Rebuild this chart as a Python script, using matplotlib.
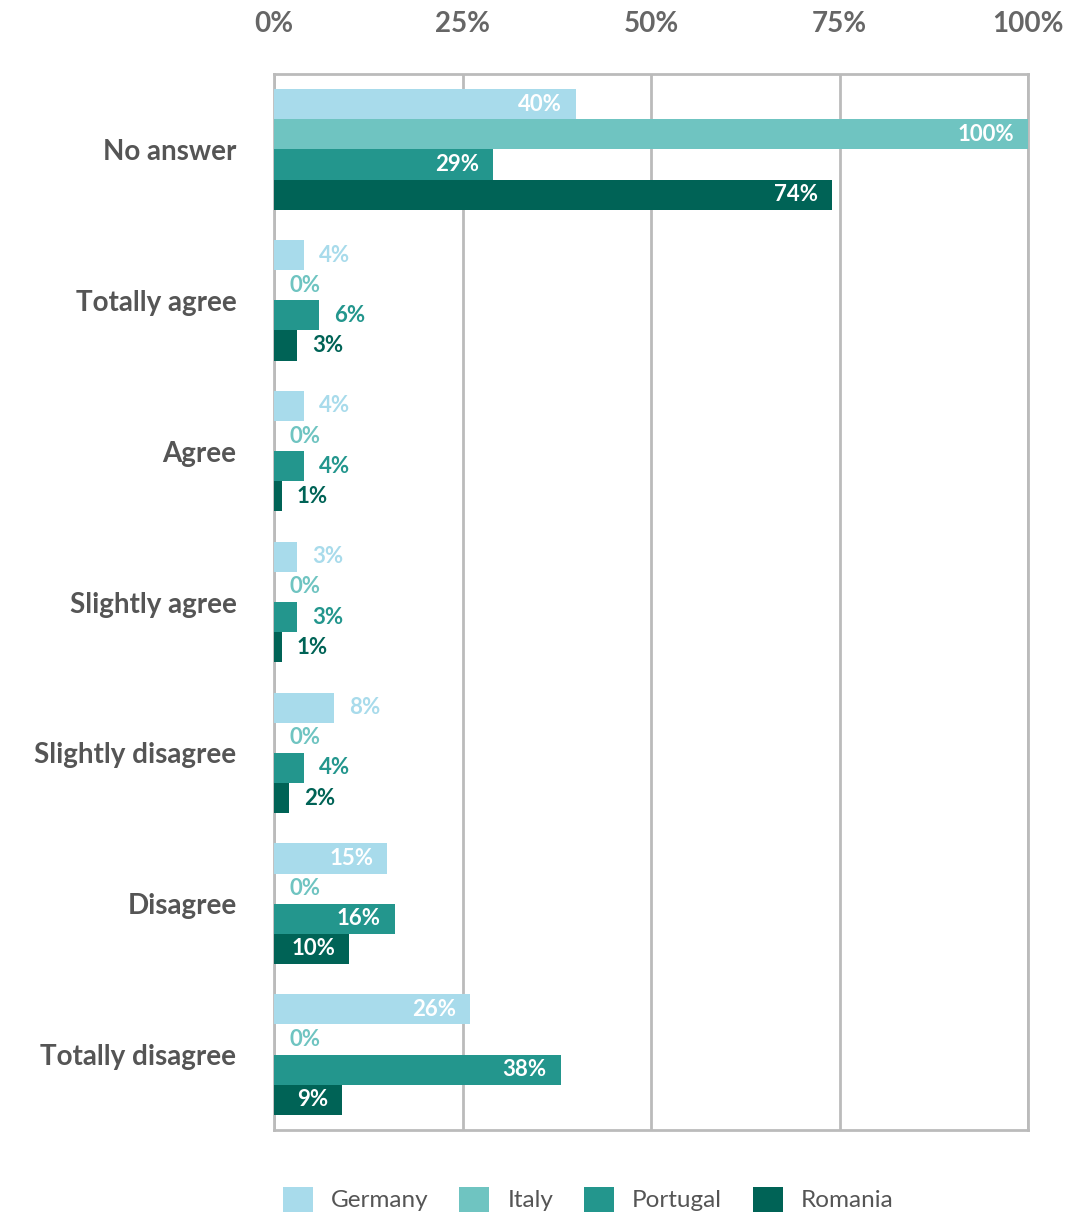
import matplotlib
matplotlib.use("Agg")
import matplotlib.pyplot as plt
from matplotlib.patches import Patch
import numpy as np

plt.rcParams['font.family'] = ['Lato', 'DejaVu Sans']

# Survey answers (share of respondents, %)
categories = ["No answer", "Totally agree", "Agree", "Slightly agree",
              "Slightly disagree", "Disagree", "Totally disagree"]
countries = ["Germany", "Italy", "Portugal", "Romania"]
germany = [40, 4, 4, 3, 8, 15, 26]
italy = [100, 0, 0, 0, 0, 0, 0]
portugal = [29, 6, 4, 3, 4, 16, 38]
romania = [74, 3, 1, 1, 2, 10, 9]
colors = ["#a8dbeb", "#6fc4c1", "#23968d", "#006356"]
xticks = [0, 25, 50, 75, 100]

series = [germany, italy, portugal, romania]

fig = plt.figure(figsize=(10.68, 12.14), dpi=100)
ax = fig.add_axes([274 / 1068, 1 - 1130 / 1214, 754 / 1068, 1056 / 1214])

bar_h = 0.2
y = np.arange(len(categories))
for i, (vals, col) in enumerate(zip(series, colors)):
    pos = y - 0.3 + i * bar_h
    ax.barh(pos, vals, height=bar_h, color=col, zorder=3)
    for p, v in zip(pos, vals):
        # long bars get the value inside, short ones next to the bar
        if v >= 9:
            ax.annotate(f"{v}%", (v, p), xytext=(-10, 0), textcoords="offset points",
                        ha="right", va="center", color="white", fontsize=16,
                        fontweight="bold", zorder=4)
        else:
            ax.annotate(f"{v}%", (v, p), xytext=(11, 0), textcoords="offset points",
                        ha="left", va="center", color=col, fontsize=16,
                        fontweight="bold", zorder=4)

ax.set_xlim(0, 100)
ax.set_ylim(len(categories) - 0.5, -0.5)
ax.set_xticks(xticks)
ax.set_xticklabels([f"{t}%" for t in xticks], fontsize=20, fontweight="bold", color="#666666")
ax.xaxis.tick_top()
ax.tick_params(axis="x", length=0, pad=27)
ax.set_yticks(y)
ax.set_yticklabels(categories, fontsize=20, fontweight="bold", color="#555555")
ax.tick_params(axis="y", length=0, pad=27)
ax.grid(axis="x", color="#bbbbbb", linewidth=2, zorder=0)
for s in ax.spines.values():
    s.set_color("#bbbbbb")
    s.set_linewidth(2)

handles = [Patch(facecolor=c, edgecolor="none") for c in colors]
fig.legend(handles, countries, loc="lower left", bbox_to_anchor=(283 / 1068, 2 / 1214),
           ncol=4, frameon=False, fontsize=17.5, handlelength=1.23, handleheight=1.23,
           handletextpad=0.74, columnspacing=1.27, labelcolor="#555555",
           borderpad=0, borderaxespad=0)

fig.savefig("out.png", dpi=100)
